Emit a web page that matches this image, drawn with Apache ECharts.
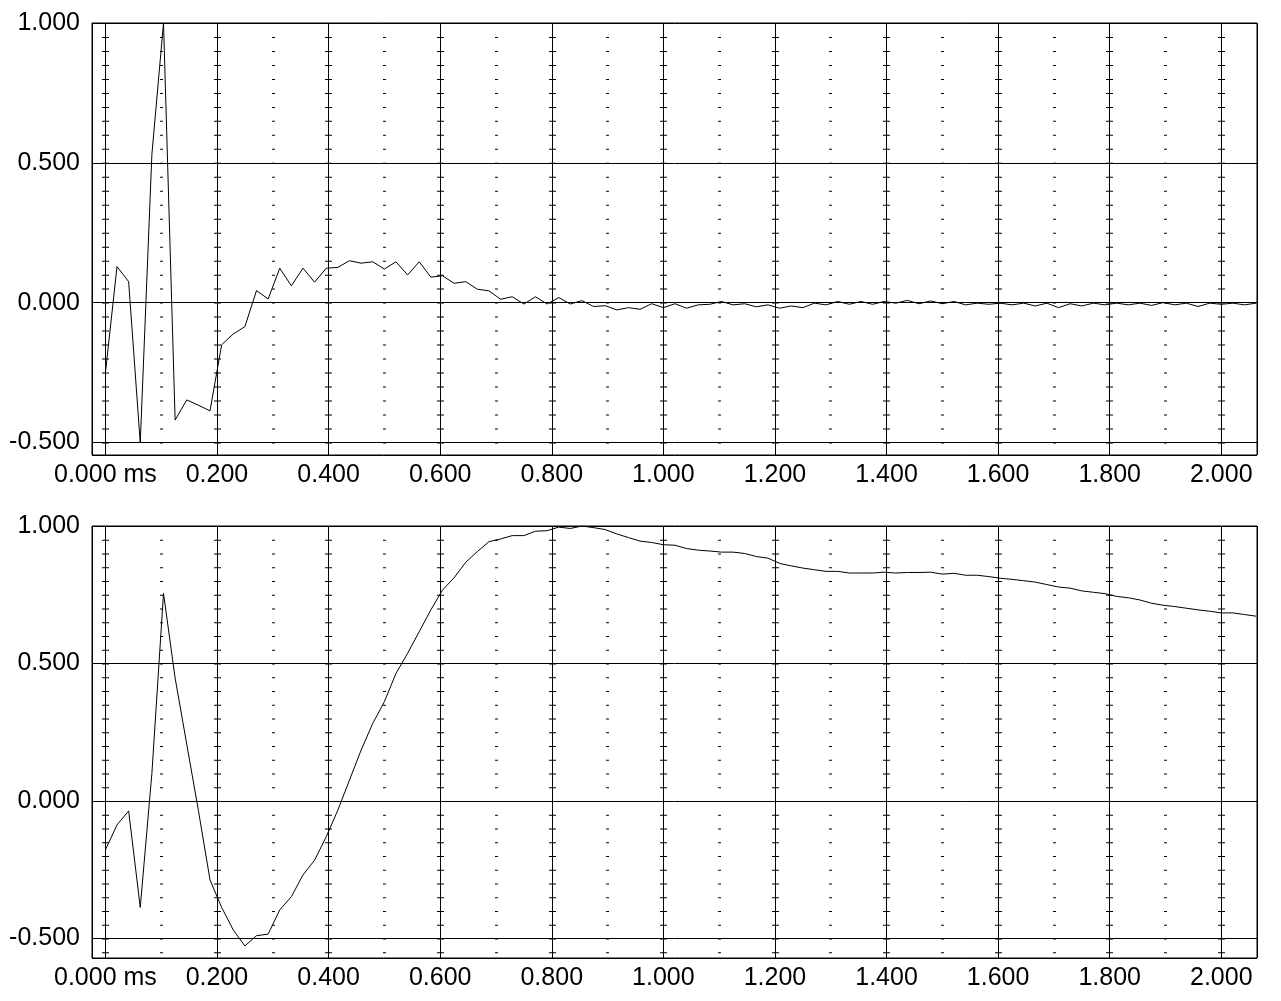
<!DOCTYPE html>
<html>
<head>
<meta charset="utf-8">
<script src="https://cdn.jsdelivr.net/npm/echarts@6/dist/echarts.min.js"></script>
<style>
html,body{margin:0;padding:0;background:#fff;}
#chart{width:1281px;height:1001px;}
</style>
</head>
<body>
<div id="chart"></div>
<script>
// Sample rate of the measurement (samples per ms)
const SAMPLES_PER_MS = 48;

// Upper panel: impulse response (normalised), one value per sample
const impulseValues = [
-0.252, 0.129, 0.075, -0.502, 0.53, 1.0, -0.42, -0.348, -0.367, -0.387,
-0.151, -0.112, -0.086, 0.043, 0.013, 0.123, 0.06, 0.123, 0.073, 0.123,
0.126, 0.15, 0.141, 0.146, 0.12, 0.146, 0.099, 0.146, 0.091, 0.096,
0.069, 0.075, 0.048, 0.042, 0.012, 0.021, -0.005, 0.021, -0.005, 0.018,
-0.005, 0.007, -0.014, -0.011, -0.026, -0.018, -0.024, -0.004, -0.018, -0.004,
-0.020, -0.008, -0.006, 0.004, -0.008, -0.004, -0.015, -0.008, -0.020, -0.012,
-0.018, -0.002, -0.008, 0.004, -0.006, 0.004, -0.006, 0.004, -0.002, 0.008,
-0.004, 0.006, -0.004, 0.004, -0.008, -0.002, -0.006, -0.002, -0.008, -0.002,
-0.012, -0.002, -0.018, -0.004, -0.012, -0.002, -0.008, -0.002, -0.008, -0.002,
-0.010, 0.0, -0.008, -0.002, -0.014, -0.002, -0.006, -0.002, -0.008, -0.002
];

// Lower panel: step response (normalised), one value per sample
const stepValues = [
-0.178, -0.087, -0.036, -0.387, 0.10, 0.755, 0.447, 0.206, -0.034, -0.287,
-0.387, -0.469, -0.527, -0.49, -0.484, -0.396, -0.348, -0.269, -0.215, -0.13,
-0.033, 0.076, 0.185, 0.282, 0.361, 0.464, 0.537, 0.616, 0.695, 0.767,
0.812, 0.868, 0.907, 0.943, 0.953, 0.965, 0.965, 0.981, 0.983, 0.996,
0.991, 1.0, 0.994, 0.987, 0.971, 0.958, 0.945, 0.940, 0.932, 0.930,
0.918, 0.912, 0.909, 0.905, 0.905, 0.900, 0.889, 0.883, 0.864, 0.855,
0.847, 0.841, 0.835, 0.835, 0.829, 0.829, 0.829, 0.832, 0.829, 0.831,
0.831, 0.832, 0.825, 0.828, 0.821, 0.821, 0.816, 0.810, 0.806, 0.801,
0.796, 0.787, 0.778, 0.774, 0.764, 0.759, 0.754, 0.744, 0.739, 0.731,
0.719, 0.712, 0.707, 0.701, 0.695, 0.690, 0.684, 0.684, 0.678, 0.672
];

// Tick labels
const xTickValues = [0, 0.2, 0.4, 0.6, 0.8, 1.0, 1.2, 1.4, 1.6, 1.8, 2.0];
const xTickLabels = ['0.000 ms', '0.200', '0.400', '0.600', '0.800', '1.000', '1.200', '1.400', '1.600', '1.800', '2.000'];
const yTickValues = [-0.5, 0, 0.5, 1.0];
const yTickLabels = ['-0.500', '0.000', '0.500', '1.000'];

function labelFor(values, labels, v) {
  for (let i = 0; i < values.length; i++) {
    if (Math.abs(values[i] - v) < 1e-6) return labels[i];
  }
  return '';
}

function toPairs(values) {
  return values.map((v, i) => [i / SAMPLES_PER_MS, v]);
}

const FONT = '"Liberation Sans", Arial, sans-serif';
const X_MIN = -0.024, X_MAX = 2.064;

const panels = [
  { top: 23, height: 432, yMin: -0.545, yMax: 1.0, dash: 12.98, data: impulseValues },
  { top: 526, height: 432, yMin: -0.571, yMax: 1.0, dash: 12.75, data: stepValues }
];

const grid = [], xAxis = [], yAxis = [], series = [];
panels.forEach((p, gi) => {
  grid.push({
    left: 92, width: 1165, top: p.top, height: p.height,
    show: true, borderColor: '#000', borderWidth: 1, backgroundColor: '#fff',
    containLabel: false, outerBoundsMode: 'none'
  });
  // main x axis: labels, solid major lines, dotted minor lines
  xAxis.push({
    type: 'value', gridIndex: gi, min: X_MIN, max: X_MAX, splitNumber: 10,
    axisLine: { show: false }, axisTick: { show: false },
    minorTick: { show: false, splitNumber: 2 },
    splitLine: { show: true, lineStyle: { color: '#000', width: 1, type: 'solid' } },
    minorSplitLine: { show: true, lineStyle: { color: '#000', width: 3, type: [1, p.dash] } },
    axisLabel: {
      show: true, showMinLabel: false, showMaxLabel: false, margin: 8,
      color: '#000', fontSize: 25, fontFamily: FONT,
      formatter: v => labelFor(xTickValues, xTickLabels, v)
    }
  });
  // secondary x axis: short horizontal ticks along the major lines
  xAxis.push({
    type: 'value', gridIndex: gi, min: X_MIN, max: X_MAX, splitNumber: 10,
    axisLine: { show: false }, axisTick: { show: false }, axisLabel: { show: false },
    splitLine: { show: true, showMinLine: false, showMaxLine: false,
      lineStyle: { color: '#000', width: 7, type: [1, p.dash] } }
  });
  yAxis.push({
    type: 'value', gridIndex: gi, min: p.yMin, max: p.yMax, splitNumber: 3,
    axisLine: { show: false }, axisTick: { show: false },
    splitLine: { show: true, lineStyle: { color: '#000', width: 1 } },
    axisLabel: {
      show: true, showMinLabel: false, margin: 12,
      color: '#000', fontSize: 25, fontFamily: FONT,
      formatter: v => labelFor(yTickValues, yTickLabels, v)
    }
  });
  series.push({
    type: 'line', xAxisIndex: gi * 2, yAxisIndex: gi,
    data: toPairs(p.data), symbol: 'none', smooth: false,
    lineStyle: { color: '#000', width: 1 }, animation: false, z: 5
  });
});

const chart = echarts.init(document.getElementById('chart'), null, { renderer: 'canvas' });
chart.setOption({
  animation: false,
  backgroundColor: '#fff',
  grid, xAxis, yAxis, series
});
</script>
</body>
</html>
